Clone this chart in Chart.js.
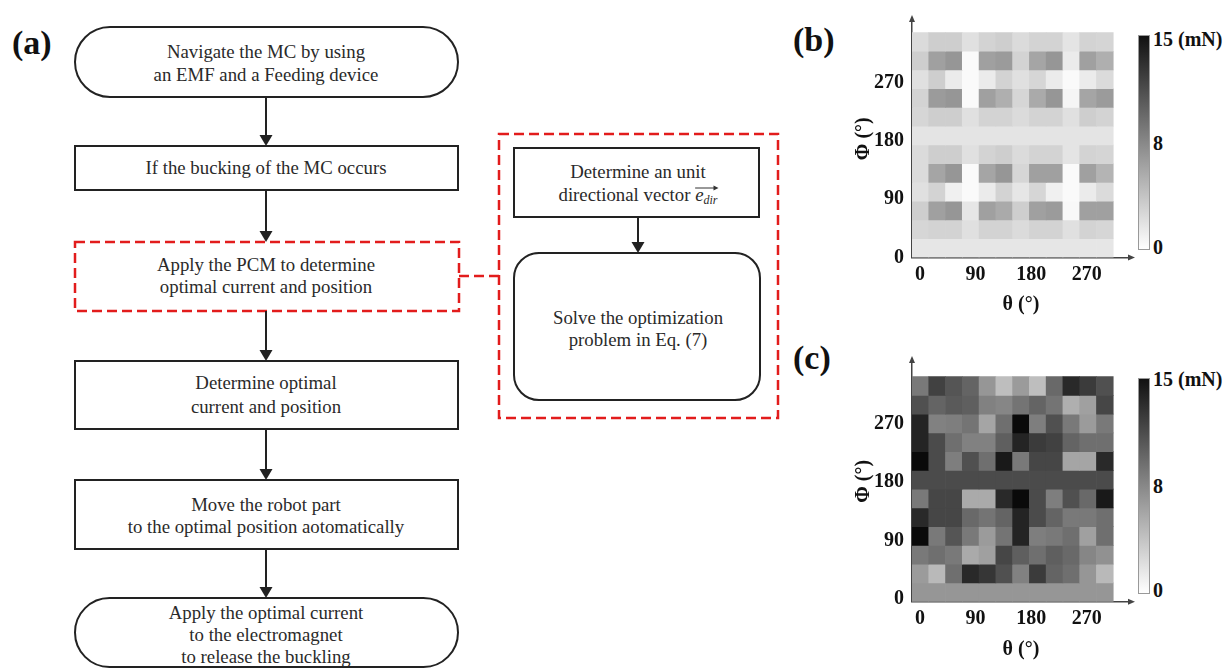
<!DOCTYPE html>
<html lang="en">
<head>
<meta charset="UTF-8">
<title>PCM flowchart and force maps</title>
<script src="https://cdn.jsdelivr.net/npm/chart.js"></script>
<style>
  body { margin: 0; width: 1231px; height: 671px; background: #fff; position: relative; overflow: hidden; font-family: "Liberation Serif", "Times New Roman", serif; }
  #flow { position: absolute; left: 0; top: 0; }
  #flow text { font-family: "Liberation Serif", "Times New Roman", serif; font-size: 18.8px; fill: #2a2a2a; text-anchor: middle; }
  canvas { position: absolute; }
  .lbl { position: absolute; font-weight: bold; color: #111; white-space: nowrap; }
  .tag { font-size: 34px; line-height: 40px; }
  .cb { font-size: 20px; line-height: 24px; }
  .cbar { position: absolute; left: 1138px; width: 10px; border: 1px solid #999; background: linear-gradient(to bottom, #111, #fff); }
</style>
</head>
<body>

<svg id="flow" width="800" height="671">
  <text x="12" y="54" style="font-size:34px;font-weight:bold;text-anchor:start;fill:#111">(a)</text>

  <rect x="75" y="27" width="383" height="70" rx="35" ry="35" fill="none" stroke="#222" stroke-width="2"/>
  <text x="266" y="58">Navigate the MC by using</text>
  <text x="266" y="81">an EMF and a Feeding device</text>

  <line x1="266" y1="97" x2="266" y2="137" stroke="#222" stroke-width="2"/>
  <polygon points="259.5,135 272.5,135 266,146" fill="#222"/>

  <rect x="75" y="146" width="383" height="44" fill="none" stroke="#222" stroke-width="2"/>
  <text x="266" y="174">If the bucking of the MC occurs</text>

  <line x1="266" y1="190" x2="266" y2="233" stroke="#222" stroke-width="2"/>
  <polygon points="259.5,231 272.5,231 266,242" fill="#222"/>

  <rect x="75" y="242" width="384" height="69" fill="none" stroke="#e21c1c" stroke-width="2.5" stroke-dasharray="10 5"/>
  <text x="266" y="271">Apply  the PCM to determine</text>
  <text x="266" y="293">optimal current and position</text>
  <line x1="459" y1="276" x2="499" y2="276" stroke="#e21c1c" stroke-width="2.5" stroke-dasharray="10 5"/>

  <line x1="266" y1="311" x2="266" y2="352" stroke="#222" stroke-width="2"/>
  <polygon points="259.5,350 272.5,350 266,361" fill="#222"/>

  <rect x="75" y="361" width="383" height="68" fill="none" stroke="#222" stroke-width="2"/>
  <text x="266" y="389">Determine optimal</text>
  <text x="266" y="413">current and position</text>

  <line x1="266" y1="429" x2="266" y2="471" stroke="#222" stroke-width="2"/>
  <polygon points="259.5,469 272.5,469 266,480" fill="#222"/>

  <rect x="75" y="480" width="383" height="69" fill="none" stroke="#222" stroke-width="2"/>
  <text x="266" y="511">Move the robot part</text>
  <text x="266" y="533">to the optimal position aotomatically</text>

  <line x1="266" y1="549" x2="266" y2="589" stroke="#222" stroke-width="2"/>
  <polygon points="259.5,587 272.5,587 266,598" fill="#222"/>

  <rect x="75" y="598" width="383" height="69" rx="34.5" ry="34.5" fill="none" stroke="#222" stroke-width="2"/>
  <text x="266" y="619">Apply  the optimal current</text>
  <text x="266" y="641">to the electromagnet</text>
  <text x="266" y="663">to release the buckling</text>

  <rect x="499" y="134" width="279" height="284" fill="none" stroke="#e21c1c" stroke-width="2.5" stroke-dasharray="10 5"/>
  <rect x="514" y="148" width="245" height="69" fill="none" stroke="#222" stroke-width="2"/>
  <text x="638" y="178">Determine an unit</text>
  <text id="vecLine" x="638" y="201">directional vector <tspan font-style="italic">e</tspan><tspan font-style="italic" font-size="12" dy="3">dir</tspan></text>
  <g id="vecArrow"></g>

  <line x1="638" y1="217" x2="638" y2="244" stroke="#222" stroke-width="2"/>
  <polygon points="631.5,242 644.5,242 638,253" fill="#222"/>

  <rect x="514" y="253" width="246" height="147" rx="25" ry="25" fill="none" stroke="#222" stroke-width="2"/>
  <text x="638" y="324">Solve the optimization</text>
  <text x="638" y="346">problem in Eq. (7)</text>
</svg>

<div class="lbl tag" style="left:793px; top:20px;">(b)</div>
<div class="lbl tag" style="left:793px; top:338px;">(c)</div>

<canvas id="mapB" width="296" height="330" style="left:840px; top:0px;"></canvas>
<canvas id="mapC" width="296" height="330" style="left:840px; top:341px;"></canvas>

<div class="cbar" style="top:35px; height:213px;"></div>
<div class="lbl cb" style="left:1153px; top:27px;">15 (mN)</div>
<div class="lbl cb" style="left:1153px; top:131px;">8</div>
<div class="lbl cb" style="left:1153px; top:235px;">0</div>

<div class="cbar" style="top:378px; height:214px;"></div>
<div class="lbl cb" style="left:1153px; top:367px;">15 (mN)</div>
<div class="lbl cb" style="left:1153px; top:474px;">8</div>
<div class="lbl cb" style="left:1153px; top:578px;">0</div>

<script>
// columns: theta (deg), rows: phi (deg) listed top row first
const thetaCols = ['0', '30', '60', '90', '120', '150', '180', '210', '240', '270', '300', '330'];
const phiRows = [330, 300, 270, 240, 210, 180, 150, 120, 90, 60, 30, 0];
const thetaTicks = [0, 90, 180, 270];
const phiTicks = [0, 90, 180, 270];
const forceMax = 15; // mN

// (b) force map, mN
const forceB = [
  [2.1, 2.9, 2.9, 1.8, 2.6, 2.9, 2.1, 2.6, 2.6, 1.6, 2.6, 2.5],
  [2.9, 5.6, 6.2, 0.3, 5.6, 5.9, 2.6, 5.3, 6.2, 1.2, 5.6, 4.7],
  [1.8, 2.9, 1.2, 0.3, 1.2, 2.6, 1.8, 2.4, 1.2, 0.3, 1.2, 2.1],
  [2.6, 5.9, 6.2, 0.3, 5.6, 4.7, 2.4, 5.0, 6.2, 0.6, 5.3, 5.9],
  [2.4, 2.9, 2.9, 1.8, 2.6, 2.6, 2.1, 2.6, 2.6, 1.8, 2.9, 2.6],
  [1.6, 1.6, 1.6, 1.6, 1.6, 1.6, 1.6, 1.6, 1.6, 1.6, 1.6, 1.6],
  [2.1, 2.9, 2.9, 1.8, 2.6, 2.9, 2.1, 2.6, 2.6, 1.6, 2.6, 2.5],
  [2.1, 5.3, 6.2, 0.3, 5.3, 6.2, 2.4, 5.6, 5.6, 0.3, 5.6, 4.4],
  [1.8, 2.6, 0.9, 0.3, 1.2, 2.6, 1.5, 2.4, 0.9, 0.3, 1.2, 2.1],
  [2.9, 5.6, 6.2, 1.5, 5.6, 5.0, 2.9, 5.6, 5.9, 0.4, 5.6, 5.6],
  [2.4, 2.6, 2.6, 1.8, 2.6, 2.6, 2.1, 2.6, 2.6, 1.8, 2.6, 2.4],
  [1.5, 1.5, 1.5, 1.5, 1.5, 1.5, 1.5, 1.5, 1.5, 1.5, 1.5, 1.5]
];

// (c) force map, mN
const forceC = [
  [7.9, 11.2, 10.0, 9.1, 6.2, 3.8, 5.9, 3.8, 8.8, 12.6, 11.5, 10.3],
  [10.3, 9.1, 9.7, 9.4, 7.4, 7.1, 8.2, 9.1, 8.2, 4.7, 5.6, 10.9],
  [12.9, 7.4, 7.6, 8.2, 5.3, 8.5, 14.4, 7.6, 10.3, 7.9, 5.9, 7.9],
  [12.9, 10.6, 8.5, 7.4, 7.4, 9.4, 12.9, 11.5, 11.2, 9.1, 8.5, 8.5],
  [14.4, 10.6, 7.6, 10.3, 8.5, 13.5, 7.9, 10.9, 10.9, 5.3, 5.3, 12.6],
  [10.6, 10.6, 10.6, 10.6, 10.6, 10.6, 10.6, 10.6, 10.6, 10.6, 10.6, 10.6],
  [7.9, 10.9, 10.9, 5.0, 5.0, 12.6, 14.4, 10.6, 7.6, 10.3, 8.8, 13.5],
  [12.6, 10.9, 10.9, 8.8, 8.2, 9.1, 12.9, 10.6, 9.1, 7.9, 7.9, 8.5],
  [14.4, 7.9, 10.0, 7.9, 5.9, 8.2, 12.9, 7.6, 7.9, 8.5, 5.6, 8.5],
  [7.9, 8.5, 7.9, 5.0, 5.6, 10.9, 9.4, 8.5, 9.4, 8.8, 7.1, 6.5],
  [5.9, 4.1, 8.5, 12.6, 11.8, 10.3, 7.4, 11.5, 9.1, 8.5, 6.2, 4.1],
  [6.2, 6.2, 6.2, 6.2, 6.2, 6.2, 6.2, 6.2, 6.2, 6.2, 6.2, 6.2]
];

const serif = '"Liberation Serif", "Times New Roman", serif';

function gray(v) {
  const g = Math.round(255 * (1 - Math.min(v, forceMax) / forceMax));
  return 'rgb(' + g + ',' + g + ',' + g + ')';
}

function rowsToDatasets(values) {
  return values.map((row, i) => ({
    data: row.map(() => [phiRows[i], phiRows[i] + 30]),
    backgroundColor: row.map(gray),
    borderWidth: 0,
    grouped: false,
    barPercentage: 1,
    categoryPercentage: 1
  }));
}

// little arrow heads at the end of both axes
const axisArrows = {
  id: 'axisArrows',
  afterDraw(chart) {
    const ctx = chart.ctx, a = chart.chartArea;
    ctx.save();
    ctx.fillStyle = '#444';
    ctx.beginPath();
    ctx.moveTo(a.left, a.top - 5);
    ctx.lineTo(a.left - 3, a.top + 2);
    ctx.lineTo(a.left + 3, a.top + 2);
    ctx.fill();
    ctx.beginPath();
    ctx.moveTo(a.right + 5, a.bottom);
    ctx.lineTo(a.right - 2, a.bottom - 3);
    ctx.lineTo(a.right - 2, a.bottom + 3);
    ctx.fill();
    ctx.restore();
  }
};

function drawMap(id, values, cfg) {
  const tickFont = { family: serif, size: 20, weight: 'bold' };
  new Chart(document.getElementById(id), {
    type: 'bar',
    data: { labels: [...thetaCols, ''], datasets: rowsToDatasets(values) },
    options: {
      responsive: false,
      animation: false,
      layout: { padding: { top: 12, right: 6, left: 0, bottom: 0 } },
      plugins: { legend: { display: false }, tooltip: { enabled: false } },
      scales: {
        x: { type: 'category', display: false },
        y: { type: 'linear', display: false, min: 0, max: cfg.yMax },
        xt: {
          axis: 'x', type: 'linear', position: 'bottom', min: -13, max: 340,
          offset: false, bounds: 'data',
          afterFit: s => { s.height = cfg.xtHeight; },
          afterBuildTicks: s => { s.ticks = thetaTicks.map(v => ({ value: v })); },
          grid: { display: false, drawTicks: false, offset: false },
          border: { color: '#444', width: 1.5 },
          ticks: { padding: 5, color: '#111', font: tickFont, maxRotation: 0, autoSkip: false },
          title: { display: true, text: 'θ (°)', color: '#111', font: tickFont, padding: { top: 0, bottom: cfg.titlePad } }
        },
        yt: {
          axis: 'y', type: 'linear', position: 'left', min: cfg.ytMin, max: cfg.ytMax,
          offset: false, bounds: 'data',
          afterFit: s => { s.width = 72; },
          afterBuildTicks: s => { s.ticks = phiTicks.map(v => ({ value: v })); },
          grid: { display: false, drawTicks: false, offset: false },
          border: { color: '#444', width: 1.5 },
          ticks: { padding: 8, color: '#111', font: tickFont, autoSkip: false },
          title: { display: true, text: 'Φ (°)', color: '#111', font: tickFont, padding: { top: 12, bottom: 0 } }
        }
      }
    },
    plugins: [axisArrows]
  });
}

drawMap('mapB', forceB, { yMax: 380, ytMin: 0, ytMax: 367, xtHeight: 72.5, titlePad: 13 });
drawMap('mapC', forceC, { yMax: 385, ytMin: -5, ytMax: 368, xtHeight: 69.3, titlePad: 9 });

// arrow over e_dir
const vt = document.getElementById('vecLine');
const n = vt.textContent.length;
const x0 = vt.getStartPositionOfChar(n - 4).x;
const x1 = vt.getEndPositionOfChar(n - 1).x;
const ay = 188;
document.getElementById('vecArrow').innerHTML =
  '<line x1="' + x0 + '" y1="' + ay + '" x2="' + (x1 - 2) + '" y2="' + ay + '" stroke="#333" stroke-width="1"/>' +
  '<polygon points="' + (x1 + 1) + ',' + ay + ' ' + (x1 - 4) + ',' + (ay - 2.5) + ' ' + (x1 - 4) + ',' + (ay + 2.5) + '" fill="#333"/>';
</script>
</body>
</html>
